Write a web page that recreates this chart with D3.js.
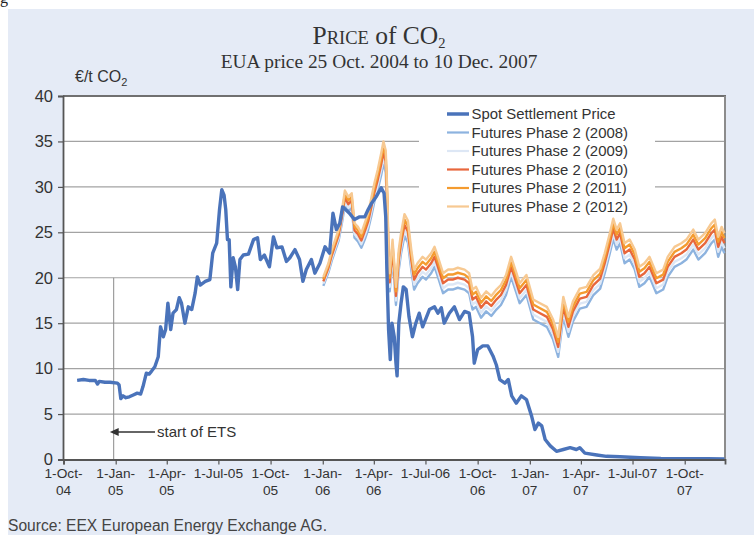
<!DOCTYPE html>
<html>
<head>
<meta charset="utf-8">
<script src="https://cdn.jsdelivr.net/npm/d3@7"></script>
<style>
  html, body { margin: 0; padding: 0; background: #ffffff; }
  svg { display: block; }
</style>
</head>
<body>
<svg id="chart" width="754" height="535"></svg>
<script>
// EUA spot settlement price
const spotDates = [
  '2004-10-25', '2004-11-05', '2004-11-15', '2004-11-26', '2004-11-30', '2004-12-03', '2004-12-13', '2004-12-22',
  '2005-01-04', '2005-01-07', '2005-01-10', '2005-01-14', '2005-01-19', '2005-01-25', '2005-02-01', '2005-02-08',
  '2005-02-14', '2005-02-18', '2005-02-24', '2005-03-01', '2005-03-05', '2005-03-11', '2005-03-17', '2005-03-21',
  '2005-03-26', '2005-03-30', '2005-04-03', '2005-04-08', '2005-04-12', '2005-04-18', '2005-04-23', '2005-04-27',
  '2005-05-03', '2005-05-09', '2005-05-15', '2005-05-21', '2005-05-25', '2005-05-30', '2005-06-08', '2005-06-16',
  '2005-06-21', '2005-06-28', '2005-07-03', '2005-07-07', '2005-07-11', '2005-07-14', '2005-07-17', '2005-07-20',
  '2005-07-23', '2005-07-27', '2005-07-31', '2005-08-04', '2005-08-08', '2005-08-14', '2005-08-23', '2005-09-01',
  '2005-09-08', '2005-09-13', '2005-09-20', '2005-09-29', '2005-10-06', '2005-10-12', '2005-10-21', '2005-10-29',
  '2005-11-04', '2005-11-13', '2005-11-21', '2005-11-27', '2005-12-03', '2005-12-12', '2005-12-18', '2005-12-27',
  '2006-01-05', '2006-01-13', '2006-01-19', '2006-01-25', '2006-01-31', '2006-02-05', '2006-02-17', '2006-02-26',
  '2006-03-07', '2006-03-16', '2006-03-22', '2006-03-28', '2006-04-05', '2006-04-14', '2006-04-19', '2006-04-22',
  '2006-04-24', '2006-04-27', '2006-04-30', '2006-05-03', '2006-05-07', '2006-05-10', '2006-05-12', '2006-05-15',
  '2006-05-19', '2006-05-23', '2006-05-28', '2006-06-02', '2006-06-08', '2006-06-14', '2006-06-20', '2006-06-26',
  '2006-07-08', '2006-07-17', '2006-07-23', '2006-07-29', '2006-08-03', '2006-08-12', '2006-08-21', '2006-08-30',
  '2006-09-08', '2006-09-16', '2006-09-22', '2006-09-25', '2006-10-01', '2006-10-10', '2006-10-19', '2006-10-28',
  '2006-11-03', '2006-11-09', '2006-11-18', '2006-11-24', '2006-11-30', '2006-12-08', '2006-12-17', '2006-12-26',
  '2007-01-04', '2007-01-10', '2007-01-16', '2007-01-22', '2007-01-28', '2007-02-06', '2007-02-17', '2007-03-01',
  '2007-03-13', '2007-03-24', '2007-03-30', '2007-04-08', '2007-04-29', '2007-05-16', '2007-06-09', '2007-07-15',
  '2007-08-20', '2007-10-01', '2007-11-10', '2007-12-10'
]
const spotValues = [
  8.7, 8.8, 8.7, 8.7, 8.3, 8.6, 8.5, 8.5,
  8.4, 8.2, 6.7, 7.0, 6.8, 6.9, 7.1, 7.3,
  7.2, 8.0, 9.5, 9.4, 9.7, 10.2, 11.3, 14.6,
  13.5, 14.3, 17.2, 14.3, 16.1, 16.5, 17.8, 17.2,
  15.0, 16.8, 16.5, 18.3, 20.1, 19.2, 19.6, 19.8,
  22.7, 23.8, 27.5, 29.7, 29.1, 27.5, 24.2, 24.2,
  19.0, 22.2, 21.2, 18.7, 22.0, 22.5, 22.6, 24.2,
  24.4, 22.0, 22.5, 21.2, 24.5, 23.3, 23.4, 21.8,
  22.2, 23.1, 22.0, 19.6, 20.9, 22.0, 20.5, 21.6,
  23.4, 22.7, 27.1, 25.3, 26.0, 27.8, 27.1, 26.4,
  26.7, 26.7, 27.5, 28.2, 28.9, 29.9, 29.3, 26.7,
  20.9, 14.3, 11.0, 15.0, 13.5, 10.6, 9.2, 15.0,
  17.2, 19.0, 18.7, 15.7, 13.5, 15.0, 16.1, 14.6,
  16.5, 16.8, 16.1, 16.7, 15.0, 16.1, 16.8, 15.4,
  16.3, 16.1, 13.5, 10.6, 12.1, 12.5, 12.5, 11.4,
  10.4, 8.8, 8.4, 8.8, 7.0, 6.2, 7.0, 6.6,
  4.8, 3.3, 4.0, 3.7, 2.2, 1.5, 0.9, 1.1,
  1.3, 1.1, 1.3, 0.7, 0.5, 0.35, 0.3, 0.2,
  0.12, 0.1, 0.08, 0.05
]

// Phase 2 futures (Dec contracts 2008-2012)
const futuresDates = [
  '2006-01-02', '2006-01-11', '2006-01-17', '2006-01-23', '2006-01-29', '2006-02-04', '2006-02-09', '2006-02-15',
  '2006-02-21', '2006-02-26', '2006-03-04', '2006-03-10', '2006-03-16', '2006-03-22', '2006-03-28', '2006-04-02',
  '2006-04-08', '2006-04-14', '2006-04-18', '2006-04-22', '2006-04-25', '2006-04-27', '2006-04-29', '2006-05-04',
  '2006-05-07', '2006-05-10', '2006-05-15', '2006-05-19', '2006-05-25', '2006-05-31', '2006-06-06', '2006-06-11',
  '2006-06-17', '2006-06-26', '2006-07-02', '2006-07-11', '2006-07-17', '2006-07-23', '2006-08-01', '2006-08-10',
  '2006-08-18', '2006-08-27', '2006-09-08', '2006-09-16', '2006-09-22', '2006-09-28', '2006-10-07', '2006-10-16',
  '2006-10-25', '2006-11-03', '2006-11-11', '2006-11-20', '2006-11-29', '2006-12-08', '2006-12-14', '2006-12-26',
  '2007-01-07', '2007-01-19', '2007-01-31', '2007-02-11', '2007-02-20', '2007-03-01', '2007-03-10', '2007-03-18',
  '2007-03-30', '2007-04-11', '2007-04-23', '2007-05-05', '2007-05-13', '2007-05-22', '2007-05-28', '2007-06-03',
  '2007-06-09', '2007-06-17', '2007-06-26', '2007-07-05', '2007-07-13', '2007-07-22', '2007-07-31', '2007-08-12',
  '2007-08-24', '2007-09-01', '2007-09-13', '2007-09-25', '2007-10-04', '2007-10-16', '2007-10-25', '2007-11-06',
  '2007-11-17', '2007-11-23', '2007-11-29', '2007-12-05', '2007-12-10'
]
const futures2008 = [
  19.1, 20.6, 21.9, 23.0, 24.1, 26.1, 28.0, 27.3,
  27.7, 24.4, 24.0, 23.3, 24.2, 25.3, 26.9, 28.4,
  29.7, 31.3, 32.6, 31.6, 26.5, 20.3, 18.5, 22.2,
  19.6, 17.0, 20.9, 22.7, 24.6, 23.9, 20.9, 18.7,
  19.4, 20.1, 19.8, 20.5, 21.2, 20.1, 18.3, 18.7,
  18.7, 18.9, 18.7, 18.3, 16.5, 16.8, 15.6, 16.3,
  15.8, 16.5, 17.0, 18.1, 20.1, 18.4, 17.2, 18.1,
  15.4, 15.0, 14.6, 13.2, 11.3, 15.7, 13.5, 15.2,
  16.6, 16.8, 18.1, 18.8, 20.5, 22.7, 24.3, 23.1,
  23.8, 21.6, 22.0, 20.9, 19.0, 19.4, 20.1, 18.3,
  18.7, 20.1, 21.2, 21.6, 22.0, 23.1, 22.0, 22.7,
  23.8, 24.2, 22.3, 23.4, 22.7
]
const futures2009 = [
  19.35, 20.85, 22.2, 23.3, 24.4, 26.45, 28.4, 27.7,
  28.1, 24.8, 24.4, 23.7, 24.65, 25.75, 27.4, 28.9,
  30.25, 31.9, 33.2, 32.2, 27.1, 20.8, 19.0, 22.7,
  20.1, 17.5, 21.45, 23.25, 25.2, 24.5, 21.45, 19.25,
  19.95, 20.65, 20.35, 21.05, 21.75, 20.65, 18.85, 19.25,
  19.25, 19.45, 19.25, 18.85, 17.05, 17.35, 16.15, 16.85,
  16.35, 17.05, 17.55, 18.65, 20.65, 18.95, 17.75, 18.65,
  15.95, 15.55, 15.15, 13.75, 11.85, 16.25, 14.05, 15.75,
  17.15, 17.35, 18.65, 19.35, 21.05, 23.25, 24.85, 23.65,
  24.35, 22.15, 22.55, 21.45, 19.55, 19.95, 20.65, 18.85,
  19.25, 20.65, 21.75, 22.15, 22.55, 23.65, 22.55, 23.25,
  24.35, 24.75, 22.85, 23.95, 23.25
]
const futures2010 = [
  19.6, 21.1, 22.5, 23.6, 24.7, 26.8, 28.8, 28.1,
  28.5, 25.2, 24.8, 24.1, 25.1, 26.2, 27.9, 29.4,
  30.8, 32.5, 33.8, 32.8, 27.7, 21.3, 19.5, 23.2,
  20.6, 18.0, 22.0, 23.8, 25.8, 25.1, 22.0, 19.8,
  20.5, 21.2, 20.9, 21.6, 22.3, 21.2, 19.4, 19.8,
  19.8, 20.0, 19.8, 19.4, 17.6, 17.9, 16.7, 17.4,
  16.9, 17.6, 18.1, 19.2, 21.2, 19.5, 18.3, 19.2,
  16.5, 16.1, 15.7, 14.3, 12.4, 16.8, 14.6, 16.3,
  17.7, 17.9, 19.2, 19.9, 21.6, 23.8, 25.4, 24.2,
  24.9, 22.7, 23.1, 22.0, 20.1, 20.5, 21.2, 19.4,
  19.8, 21.2, 22.3, 22.7, 23.1, 24.2, 23.1, 23.8,
  24.9, 25.3, 23.4, 24.5, 23.8
]
const futures2011 = [
  19.85, 21.35, 22.8, 23.9, 25.0, 27.15, 29.2, 28.5,
  28.9, 25.6, 25.2, 24.5, 25.55, 26.65, 28.4, 29.9,
  31.35, 33.1, 34.4, 33.4, 28.3, 21.8, 20.0, 23.7,
  21.1, 18.5, 22.55, 24.35, 26.4, 25.7, 22.55, 20.35,
  21.05, 21.75, 21.45, 22.15, 22.85, 21.75, 19.95, 20.35,
  20.35, 20.55, 20.35, 19.95, 18.15, 18.45, 17.25, 17.95,
  17.45, 18.15, 18.65, 19.75, 21.75, 20.05, 18.85, 19.75,
  17.05, 16.65, 16.25, 14.85, 12.95, 17.35, 15.15, 16.85,
  18.25, 18.45, 19.75, 20.45, 22.15, 24.35, 25.95, 24.75,
  25.45, 23.25, 23.65, 22.55, 20.65, 21.05, 21.75, 19.95,
  20.35, 21.75, 22.85, 23.25, 23.65, 24.75, 23.65, 24.35,
  25.45, 25.85, 23.95, 25.05, 24.35
]
const futures2012 = [
  20.1, 21.6, 23.1, 24.2, 25.3, 27.5, 29.6, 28.9,
  29.3, 26.0, 25.6, 24.9, 26.0, 27.1, 28.9, 30.4,
  31.9, 33.7, 35.0, 34.0, 28.9, 22.3, 20.5, 24.2,
  21.6, 19.0, 23.1, 24.9, 27.0, 26.3, 23.1, 20.9,
  21.6, 22.3, 22.0, 22.7, 23.4, 22.3, 20.5, 20.9,
  20.9, 21.1, 20.9, 20.5, 18.7, 19.0, 17.8, 18.5,
  18.0, 18.7, 19.2, 20.3, 22.3, 20.6, 19.4, 20.3,
  17.6, 17.2, 16.8, 15.4, 13.5, 17.9, 15.7, 17.4,
  18.8, 19.0, 20.3, 21.0, 22.7, 24.9, 26.5, 25.3,
  26.0, 23.8, 24.2, 23.1, 21.2, 21.6, 22.3, 20.5,
  20.9, 22.3, 23.4, 23.8, 24.2, 25.3, 24.2, 24.9,
  26.0, 26.4, 24.5, 25.6, 24.9
]

const seriesNames = [
  'Spot Settlement Price',
  'Futures Phase 2 (2008)',
  'Futures Phase 2 (2009)',
  'Futures Phase 2 (2010)',
  'Futures Phase 2 (2011)',
  'Futures Phase 2 (2012)'
]
const seriesColors = ['#4a73ba', '#8db3df', '#dde7f5', '#e8673c', '#f49b2f', '#f7c992']

const yTicks = [0, 5, 10, 15, 20, 25, 30, 35, 40]
const xTickDates = [
  '2004-10-01', '2005-01-01', '2005-04-01', '2005-07-01', '2005-10-01', '2006-01-01', '2006-04-01',
  '2006-07-01', '2006-10-01', '2007-01-01', '2007-04-01', '2007-07-01', '2007-10-01'
]
const xTickLabels = [
  ['1-Oct-', '04'], ['1-Jan-', '05'], ['1-Apr-', '05'], ['1-Jul-05'], ['1-Oct-', '05'], ['1-Jan-', '06'], ['1-Apr-', '06'],
  ['1-Jul-06'], ['1-Oct-', '06'], ['1-Jan-', '07'], ['1-Apr-', '07'], ['1-Jul-07'], ['1-Oct-', '07']
]
const xDomain = ['2004-10-01', '2007-12-11']
const etsStart = '2005-01-01'

const parse = d3.utcParse('%Y-%m-%d')
const sans = "'Liberation Sans', Arial, sans-serif"
const serif = "'Liberation Serif', 'Times New Roman', serif"

const svg = d3.select('#chart')
const width = 754
const height = 535
const margin = { top: 96, right: 29, bottom: 75, left: 63 }

// light blue panel behind everything
svg.append('rect').attr('x', 8).attr('y', 9).attr('width', width - 8).attr('height', height - 9).attr('fill', '#e5ebf6')
svg.append('text').attr('x', 0).attr('y', 3).attr('font-family', serif).attr('font-size', 16).attr('fill', '#222').text('g')

// titles
const title = svg.append('text').attr('x', 379).attr('y', 44).attr('text-anchor', 'middle').attr('font-family', serif).attr('fill', '#333')
title.append('tspan').attr('font-size', 25.5).text('P')
title.append('tspan').attr('font-size', 18.5).text('RICE')
title.append('tspan').attr('font-size', 25.5).text(' of CO')
title.append('tspan').attr('font-size', 14.5).attr('dy', 4).text('2')
svg.append('text').attr('x', 379).attr('y', 68).attr('text-anchor', 'middle').attr('font-family', serif).attr('font-size', 19.4).attr('fill', '#333')
  .text('EUA price 25 Oct. 2004 to 10 Dec. 2007')

const unit = svg.append('text').attr('x', 75).attr('y', 82).attr('font-family', sans).attr('font-size', 16).attr('fill', '#333')
unit.append('tspan').text('€/t CO')
unit.append('tspan').attr('font-size', 11).attr('dy', 4).text('2')

const x = d3.scaleUtc().domain(xDomain.map(parse)).range([margin.left + 0.5, width - margin.right])
const y = d3.scaleLinear().domain([0, 40]).range([height - margin.bottom - 0.5, margin.top])

// plot area
svg.append('rect').attr('x', margin.left).attr('y', margin.top).attr('width', width - margin.right - margin.left)
  .attr('height', height - margin.bottom - margin.top).attr('fill', '#ffffff')

svg.append('g').selectAll('line').data(yTicks.filter((t) => t > 0 && t < 40)).join('line')
  .attr('x1', margin.left).attr('x2', width - margin.right)
  .attr('y1', (t) => y(t)).attr('y2', (t) => y(t))
  .attr('stroke', '#a3a3a3').attr('stroke-width', 1.2)

// legend box covers the gridlines behind it
svg.append('rect').attr('x', 419).attr('y', 100).attr('width', 236).attr('height', 116).attr('fill', '#ffffff')

// start of ETS marker
svg.append('line').attr('x1', x(parse(etsStart)) - 2).attr('x2', x(parse(etsStart)) - 2).attr('y1', y(20)).attr('y2', y(0))
  .attr('stroke', '#8a8a8a').attr('stroke-width', 1)

const frame = svg.append('g').attr('fill', 'none')
frame.append('line').attr('x1', margin.left).attr('x2', width - margin.right + 1).attr('y1', margin.top).attr('y2', margin.top)
  .attr('stroke', '#707070').attr('stroke-width', 2)
frame.append('line').attr('x1', width - margin.right).attr('x2', width - margin.right).attr('y1', margin.top).attr('y2', y(0))
  .attr('stroke', '#8c8c8c').attr('stroke-width', 2)

// series
const futuresValues = [futures2008, futures2009, futures2010, futures2011, futures2012]
const line = d3.line().x((d) => x(d.date)).y((d) => y(d.value))
const futuresTable = futuresValues.map((values) => futuresDates.map((date, i) => ({ date: parse(date), value: values[i] })))
const spotTable = spotDates.map((date, i) => ({ date: parse(date), value: spotValues[i] }))

svg.append('g').attr('fill', 'none').selectAll('path').data(futuresTable).join('path')
  .attr('d', line)
  .attr('stroke', (_, i) => seriesColors[i + 1])
  .attr('stroke-width', 2.4)
  .attr('stroke-linejoin', 'round')

svg.append('path').datum(spotTable).attr('fill', 'none').attr('d', line)
  .attr('stroke', seriesColors[0]).attr('stroke-width', 3.4).attr('stroke-linejoin', 'round')

// axes
const yAxis = svg.append('g').attr('transform', `translate(${margin.left},0)`)
  .call(d3.axisLeft(y).tickValues(yTicks).tickSize(5).tickPadding(5))
yAxis.select('.domain').attr('stroke', '#555').attr('stroke-width', 1.8)
yAxis.selectAll('.tick line').attr('stroke', '#555').attr('stroke-width', 1.2)
yAxis.selectAll('.tick text').attr('font-family', sans).attr('font-size', 16.5).attr('fill', '#333')

const xAxis = svg.append('g').attr('transform', `translate(0,${y(0)})`)
  .call(d3.axisBottom(x).tickValues(xTickDates.map(parse)).tickSize(5).tickFormat(''))
xAxis.select('.domain').attr('stroke', '#555').attr('stroke-width', 1.8)
xAxis.selectAll('.tick line').attr('stroke', '#555').attr('stroke-width', 1.2)

svg.append('g').selectAll('text').data(xTickDates).join('text')
  .attr('x', (d) => x(parse(d)))
  .attr('y', 478)
  .attr('text-anchor', 'middle')
  .attr('font-family', sans).attr('font-size', 13.7).attr('fill', '#333')
  .each(function (d, i) {
    const label = d3.select(this)
    xTickLabels[i].forEach((part, k) => {
      label.append('tspan').attr('x', x(parse(d))).attr('dy', k === 0 ? 0 : 16.5).text(part)
    })
  })

// annotation arrow
svg.append('defs').append('marker').attr('id', 'arrow').attr('viewBox', '0 0 10 10').attr('refX', 1).attr('refY', 5)
  .attr('markerWidth', 7).attr('markerHeight', 7).attr('orient', 'auto-start-reverse')
  .append('path').attr('d', 'M0,1 L9,5 L0,9 z').attr('fill', '#333')
svg.append('line').attr('x1', 155).attr('x2', x(parse(etsStart)) + 2).attr('y1', 432).attr('y2', 432)
  .attr('stroke', '#333').attr('stroke-width', 1.4).attr('marker-end', 'url(#arrow)')
svg.append('text').attr('x', 157).attr('y', 437).attr('font-family', sans).attr('font-size', 15).attr('fill', '#333').text('start of ETS')

// legend
const legend = svg.append('g').selectAll('g').data(seriesNames).join('g')
  .attr('transform', (_, i) => `translate(447,${114 + i * 18.5})`)
legend.append('line').attr('x1', 0).attr('x2', 22).attr('y1', 0).attr('y2', 0)
  .attr('stroke', (_, i) => seriesColors[i]).attr('stroke-width', (_, i) => (i === 0 ? 3.5 : 2.2))
legend.append('text').attr('x', 24.5).attr('y', 5.2).attr('font-family', sans).attr('font-size', 14.9).attr('fill', '#333').text((d) => d)

svg.append('text').attr('x', 8).attr('y', 531).attr('font-family', sans).attr('font-size', 15.6).attr('fill', '#444')
  .text('Source: EEX European Energy Exchange AG.')
</script>
</body>
</html>
